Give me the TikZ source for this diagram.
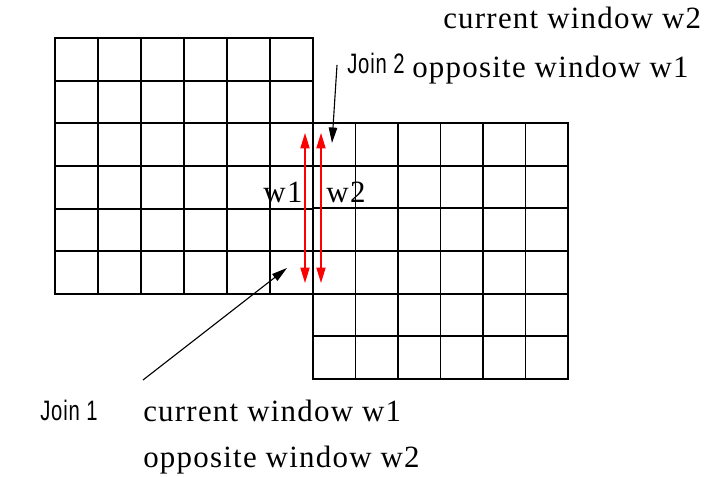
\documentclass[tikz,border=0pt]{standalone}
\usepackage{fontspec}
\setmainfont{Liberation Serif}
\newfontfamily\wideserif[LetterSpace=4]{Liberation Serif}
\newfontfamily\joinfont[FakeStretch=0.72, LetterSpace=3]{Liberation Sans}
\usetikzlibrary{arrows.meta, positioning}
\tikzset{
  gridline/.style={line width=1.4pt, black, line cap=rect},
  windowarrow/.style={red, line width=1pt, {Triangle[length=11pt,width=6.5pt]}-{Triangle[length=11pt,width=6.5pt]}},
  joinarrow/.style={black, line width=0.8pt, -{Triangle[length=11pt,width=6pt]}},
  txt/.style={inner sep=0pt, anchor=west, font=\wideserif\fontsize{22}{26}\selectfont},
  jointxt/.style={inner sep=0pt, anchor=west, font=\joinfont\fontsize{20}{24}\selectfont}
}

\begin{document}
\begin{tikzpicture}[x=0.025cm, y=-0.025cm]
\useasboundingbox (0,0) rectangle (727,477);

% left window
\foreach \i in {0,...,6} {
  \draw[gridline] ({55+43*\i},38) -- ({55+43*\i},294);
  \draw[gridline] (55,{38+42.67*\i}) -- (313,{38+42.67*\i});
}
% right window
\foreach \i in {0,...,6} {
  \draw[gridline] ({313+42.5*\i},123) -- ({313+42.5*\i},379);
  \draw[gridline] (313,{123+42.67*\i}) -- (568,{123+42.67*\i});
}

% window arrows
\coordinate (wonetop) at (305,133);
\coordinate (wonebot) at (305,283);
\coordinate (wtwotop) at (321,133);
\coordinate (wtwobot) at (321,283);
\draw[windowarrow] (wonetop) -- (wonebot);
\draw[windowarrow] (wtwotop) -- (wtwobot);
\node[txt, anchor=center] (wone) at (283,192) {w1};
\node[txt, anchor=center] (wtwo) at (346,192) {w2};

% join 2
\node[txt] (curtwo) at (443,18) {current window w2};
\node[jointxt] (jointwo) at (347,63) {Join 2};
\node[txt] (opptwo) at (412,70) {opposite window w1};
\coordinate (jtwostart) at (337,65);
\coordinate (jtwotip) at (332,143);
\draw[joinarrow] (jtwostart) -- (jtwotip);

% join 1
\node[jointxt] (joinone) at (40,410) {Join 1};
\node[txt] (curone) at (143,411) {current window w1};
\node[txt] (oppone) at (143,460) {opposite window w2};
\coordinate (jonestart) at (143,380);
\coordinate (jonetip) at (287,268);
\draw[joinarrow] (jonestart) -- (jonetip);
\end{tikzpicture}
\end{document}
